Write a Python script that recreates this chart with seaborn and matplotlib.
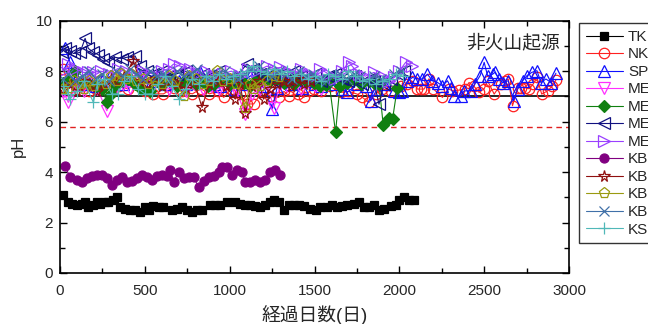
import matplotlib
matplotlib.use("Agg")
import matplotlib.pyplot as plt
import seaborn as sns
from matplotlib.ticker import MultipleLocator

# (elapsed days, pH) per monitoring site
TK = [(20, 3.1), (49, 2.8), (69, 2.75), (98, 2.7), (128, 2.75), (148, 2.8), (167, 2.6), (197, 2.7),
      (217, 2.8), (236, 2.75), (266, 2.8), (285, 2.8), (315, 2.9), (335, 3.0), (354, 2.6), (384, 2.55),
      (413, 2.5), (443, 2.5), (472, 2.4), (502, 2.6), (522, 2.5), (551, 2.65), (581, 2.6), (610, 2.6),
      (659, 2.5), (689, 2.55), (718, 2.6), (748, 2.5), (777, 2.4), (807, 2.5), (836, 2.5), (886, 2.7),
      (915, 2.7), (945, 2.7), (984, 2.8), (1033, 2.8), (1063, 2.75), (1092, 2.7), (1122, 2.7),
      (1151, 2.65), (1181, 2.6), (1210, 2.7), (1240, 2.8), (1260, 2.9), (1289, 2.8), (1319, 2.5),
      (1348, 2.7), (1378, 2.7), (1408, 2.7), (1437, 2.65), (1476, 2.55), (1506, 2.5), (1535, 2.6),
      (1575, 2.6), (1604, 2.7), (1634, 2.6), (1663, 2.65), (1693, 2.7), (1732, 2.75), (1762, 2.8),
      (1791, 2.6), (1821, 2.6), (1850, 2.7), (1880, 2.5), (1909, 2.55), (1949, 2.65), (1978, 2.7),
      (1998, 2.9), (2027, 3.0), (2057, 2.9), (2086, 2.9)]

NK = [(20, 8.1), (50, 7.3), (90, 7.5), (130, 7.4), (170, 7.2), (210, 7.3), (250, 7.6), (300, 7.2),
      (350, 7.4), (400, 7.3), (450, 7.5), (500, 7.2), (550, 7.1), (610, 7.1), (670, 7.35), (720, 7.2),
      (780, 7.1), (830, 7.3), (880, 7.1), (930, 7.2), (965, 6.96), (1010, 7.3), (1060, 7.1),
      (1100, 6.7), (1142, 6.7), (1190, 7.2), (1240, 7.0), (1289, 6.96), (1320, 7.2), (1348, 7.02),
      (1400, 7.1), (1437, 6.96), (1470, 7.2), (1496, 7.3), (1540, 7.2), (1590, 7.4), (1654, 7.16),
      (1700, 7.2), (1752, 7.09), (1782, 6.96), (1821, 6.76), (1860, 7.1), (1900, 7.3), (1950, 7.2),
      (2008, 7.42), (2048, 7.49), (2080, 7.6), (2106, 7.29), (2126, 7.29), (2146, 7.29), (2175, 7.7),
      (2200, 7.3), (2254, 6.96), (2290, 7.3), (2313, 7.22), (2352, 7.25), (2385, 7.3), (2411, 7.55),
      (2440, 7.4), (2470, 7.16), (2500, 7.3), (2520, 7.62), (2559, 7.09), (2599, 7.49), (2620, 7.6),
      (2642, 7.69), (2667, 6.63), (2700, 7.35), (2717, 7.35), (2740, 7.35), (2765, 7.3), (2790, 7.5),
      (2811, 7.75), (2839, 7.09), (2874, 7.22), (2900, 7.4), (2923, 7.65)]

SP = [(30, 8.9), (59, 8.35), (90, 7.6), (130, 7.5), (170, 7.7), (210, 7.4), (250, 7.6), (295, 7.8),
      (340, 7.5), (374, 7.49), (420, 7.7), (460, 7.9), (500, 7.6), (541, 7.62), (580, 7.8), (620, 7.5),
      (660, 7.7), (700, 7.6), (740, 7.5), (790, 7.8), (827, 7.95), (870, 7.6), (910, 7.5), (945, 7.42),
      (990, 7.7), (1030, 7.3), (1070, 7.5), (1122, 7.82), (1160, 7.6), (1200, 7.4), (1250, 6.5),
      (1280, 7.35), (1320, 7.6), (1360, 7.5), (1400, 7.7), (1427, 7.35), (1460, 7.6), (1500, 7.5),
      (1540, 7.4), (1580, 7.7), (1620, 7.5), (1660, 7.3), (1693, 7.16), (1752, 7.49), (1801, 7.42),
      (1831, 6.83), (1870, 7.3), (1910, 7.5), (1969, 7.22), (1998, 7.16), (2018, 7.22), (2048, 7.6),
      (2077, 7.75), (2106, 7.7), (2136, 7.69), (2166, 7.88), (2195, 7.62), (2225, 7.55), (2254, 7.42),
      (2284, 7.62), (2303, 7.35), (2323, 7.02), (2362, 7.02), (2382, 7.22), (2421, 7.22), (2445, 7.49),
      (2476, 7.82), (2500, 8.35), (2520, 7.82), (2550, 7.88), (2563, 7.95), (2589, 7.69), (2609, 7.55),
      (2642, 7.62), (2673, 6.83), (2697, 7.29), (2727, 7.62), (2752, 7.82), (2780, 7.95), (2811, 8.02),
      (2835, 7.55), (2864, 7.69), (2894, 7.55), (2923, 7.92)]

ME_a = [(20, 7.2), (49, 6.76), (98, 7.42), (140, 7.2), (180, 7.5), (220, 7.3), (276, 6.43), (320, 7.2),
        (370, 7.5), (413, 7.35), (460, 7.6), (500, 7.3), (550, 7.4), (600, 7.5), (640, 7.3), (690, 7.4),
        (740, 7.2), (790, 7.5), (840, 7.3), (890, 7.4), (940, 7.3), (990, 7.5), (1040, 7.2), (1093, 6.3),
        (1130, 7.1), (1180, 7.3), (1220, 7.5), (1260, 6.55), (1299, 7.49), (1340, 7.4), (1380, 7.6),
        (1420, 7.3), (1460, 7.6), (1500, 7.4), (1540, 7.3), (1580, 7.5)]

ME_b = [(20, 7.55), (50, 7.6), (89, 8.0), (130, 7.6), (170, 7.5), (210, 7.4), (250, 7.3), (276, 6.76),
        (300, 7.1), (325, 7.45), (360, 7.6), (400, 7.7), (440, 7.5), (480, 7.3), (531, 7.2), (570, 7.6),
        (610, 7.5), (650, 7.7), (690, 7.4), (730, 7.6), (768, 7.7), (800, 7.5), (827, 7.6), (870, 7.4),
        (905, 7.5), (950, 7.7), (1000, 7.5), (1033, 7.6), (1063, 7.65), (1083, 7.55), (1120, 7.4),
        (1163, 7.7), (1200, 7.8), (1240, 7.6), (1280, 7.7), (1320, 7.55), (1360, 7.6), (1378, 7.5),
        (1417, 7.7), (1450, 7.6), (1496, 7.55), (1535, 7.4), (1565, 7.45), (1585, 7.62), (1624, 5.57),
        (1650, 7.42), (1693, 7.55), (1730, 7.7), (1772, 7.5), (1820, 7.6), (1850, 7.55), (1880, 7.49),
        (1905, 5.87), (1940, 6.15), (1960, 6.1), (1988, 7.35)]

ME_c = [(10, 8.75), (30, 8.9), (59, 8.8), (80, 8.7), (118, 8.74), (148, 9.3), (167, 8.9), (197, 8.75),
        (226, 8.65), (256, 8.5), (285, 8.35), (325, 8.55), (364, 8.5), (394, 8.55), (443, 8.6), (470, 8.2),
        (510, 8.0), (550, 7.9), (600, 8.0), (640, 7.8), (690, 7.9), (740, 8.0), (790, 7.7), (840, 7.9),
        (890, 7.8), (940, 8.0), (990, 7.7), (1040, 7.8), (1102, 8.28), (1140, 8.1), (1180, 7.9),
        (1220, 7.8), (1260, 7.6), (1300, 7.9), (1340, 7.7), (1380, 8.0), (1420, 7.8), (1460, 7.7),
        (1500, 7.9), (1540, 7.6), (1580, 7.8), (1620, 7.9), (1660, 7.7), (1700, 7.6), (1740, 7.8),
        (1780, 7.5), (1820, 7.7), (1850, 7.6), (1880, 6.69), (1910, 7.5), (1950, 7.7), (1990, 7.9),
        (2030, 8.0)]

ME_d = [(20, 8.0), (49, 8.28), (89, 8.1), (138, 7.95), (167, 7.95), (197, 7.95), (240, 8.0), (290, 7.9),
        (340, 8.1), (390, 8.0), (440, 7.9), (490, 8.0), (540, 7.9), (600, 8.0), (640, 8.1), (669, 8.28),
        (708, 8.2), (767, 8.1), (810, 7.9), (860, 8.0), (910, 7.8), (960, 7.9), (1010, 8.0), (1060, 7.8),
        (1110, 8.1), (1160, 8.0), (1220, 8.2), (1260, 8.1), (1299, 8.15), (1340, 8.0), (1380, 7.9),
        (1420, 8.1), (1460, 7.9), (1500, 7.8), (1535, 8.08), (1580, 7.9), (1620, 7.7), (1660, 8.0),
        (1703, 8.35), (1722, 8.2), (1760, 7.9), (1800, 7.8), (1850, 7.95), (1900, 7.8), (1940, 7.6),
        (1969, 7.75), (2000, 8.0), (2037, 8.35), (2077, 8.2)]

KB_a = [(29, 4.25), (59, 3.8), (98, 3.7), (128, 3.6), (158, 3.75), (187, 3.85), (217, 3.9), (246, 3.9),
        (276, 3.75), (305, 3.5), (335, 3.7), (364, 3.8), (394, 3.6), (423, 3.65), (453, 3.75), (482, 3.9),
        (512, 3.8), (541, 3.7), (571, 3.85), (600, 3.9), (630, 3.85), (650, 4.1), (669, 3.6), (699, 4.0),
        (728, 3.75), (758, 3.8), (787, 3.8), (817, 3.4), (846, 3.65), (876, 3.8), (906, 3.85), (935, 4.0),
        (955, 4.2), (984, 4.2), (1014, 3.9), (1043, 4.1), (1073, 4.0), (1092, 3.6), (1122, 3.6),
        (1151, 3.7), (1181, 3.6), (1210, 3.7), (1240, 4.0), (1270, 4.1), (1299, 3.9)]

KB_b = [(20, 7.3), (60, 7.5), (100, 7.2), (140, 7.6), (180, 7.4), (216, 7.22), (260, 7.5), (300, 7.7),
        (340, 7.6), (380, 7.8), (433, 8.41), (470, 7.6), (510, 7.5), (560, 7.7), (600, 7.4), (640, 7.6),
        (690, 7.5), (740, 7.3), (790, 7.6), (837, 6.56), (880, 7.5), (930, 7.6), (980, 7.4), (1033, 6.89),
        (1060, 7.5), (1093, 6.36), (1130, 7.4), (1170, 7.6), (1200, 6.89), (1240, 7.3), (1280, 7.5),
        (1320, 7.6), (1360, 7.4), (1400, 7.7), (1440, 7.5), (1480, 7.6)]

KB_c = [(20, 7.3), (49, 7.35), (80, 7.6), (110, 7.5), (140, 7.3), (170, 7.6), (200, 7.4), (240, 7.7),
        (270, 7.5), (300, 7.8), (335, 7.6), (360, 7.9), (390, 7.7), (420, 7.9), (450, 7.6), (490, 7.7),
        (520, 7.5), (560, 7.6), (600, 7.5), (640, 7.8), (680, 7.6), (729, 7.0), (760, 7.8), (800, 7.7),
        (840, 7.5), (880, 7.6), (925, 8.0), (960, 7.6), (1000, 7.7), (1040, 7.5), (1093, 6.55),
        (1120, 7.5), (1142, 7.29), (1180, 7.4), (1220, 7.6), (1260, 7.8), (1289, 7.75)]

KB_d = [(20, 7.7), (50, 7.9), (90, 7.6), (130, 7.8), (170, 8.0), (210, 7.7), (250, 7.9), (290, 7.6),
        (330, 8.0), (370, 7.8), (410, 8.1), (450, 7.9), (490, 7.7), (530, 8.0), (570, 7.8), (610, 7.9),
        (650, 7.7), (690, 8.0), (730, 7.8), (770, 7.9), (810, 8.1), (850, 7.8), (890, 7.7), (930, 7.9),
        (970, 8.0), (1010, 7.8), (1050, 7.7), (1090, 7.9), (1130, 8.1), (1170, 8.2), (1210, 8.0),
        (1250, 7.8), (1290, 8.0), (1330, 7.9), (1370, 7.7), (1410, 8.0), (1450, 7.8), (1490, 7.9),
        (1530, 7.7), (1570, 7.6), (1610, 7.8), (1650, 7.9), (1690, 7.7), (1730, 7.9), (1770, 7.8),
        (1810, 7.6), (1850, 7.8), (1890, 7.7), (1930, 7.6), (1970, 7.9), (2010, 8.0)]

KS = [(20, 7.4), (49, 7.09), (59, 6.9), (100, 7.2), (140, 7.6), (197, 6.76), (220, 7.5), (260, 7.7),
      (305, 7.09), (340, 7.1), (380, 7.6), (420, 7.8), (460, 7.3), (502, 7.09), (540, 7.1), (580, 7.5),
      (620, 7.8), (660, 7.4), (699, 6.9), (740, 7.3), (780, 7.7), (820, 7.5), (860, 7.8), (900, 7.6),
      (940, 7.9), (980, 7.7), (1020, 7.8), (1060, 7.9), (1100, 8.0), (1140, 8.2), (1180, 8.0),
      (1220, 7.9), (1260, 8.1), (1300, 7.9), (1340, 8.0), (1380, 7.8), (1420, 7.9), (1460, 7.7),
      (1500, 7.8), (1540, 7.6), (1580, 7.9), (1620, 7.8), (1660, 7.7), (1700, 8.0), (1740, 7.8),
      (1780, 7.6), (1820, 7.7), (1860, 7.5), (1900, 7.6), (1940, 7.7), (1980, 7.9), (2020, 7.8)]

series_names = ["TK", "NK", "SP", "ME", "ME", "ME", "ME", "KB", "KB", "KB", "KB", "KS"]
series_data = [TK, NK, SP, ME_a, ME_b, ME_c, ME_d, KB_a, KB_b, KB_c, KB_d, KS]

neutral_ph = 7.0
reference_ph = 5.8
panel_title = "非火山起源"

# drawing style for each site: colour, marker, filled?, marker size
styles = [
    ("#000000", "s", True, 5.5),
    ("#ff2020", "o", False, 7.5),
    ("#1010ff", "^", False, 8),
    ("#ff30ff", "v", False, 8),
    ("#108010", "D", True, 6.5),
    ("#101080", "<", False, 8),
    ("#9a40ff", ">", False, 8),
    ("#800080", "o", True, 6.5),
    ("#901010", "*", False, 8.5),
    ("#9a9a10", "p", False, 8),
    ("#4070a8", "x", False, 7),
    ("#50b8b8", "+", False, 8),
]

sns.set_style("ticks")
plt.rcParams["font.family"] = ["Liberation Sans", "Noto Sans CJK JP"]
plt.rcParams["axes.unicode_minus"] = False

fig = plt.figure(figsize=(6.48, 3.24), dpi=100)
ax = fig.add_axes([60 / 648, 1 - 273 / 324, 509 / 648, 252.3 / 324])

ax.axhline(neutral_ph, color="black", lw=1.2, zorder=1)
ax.axhline(reference_ph, color="#e02020", lw=1.0, ls=(0, (4, 3)), zorder=1)

handles = []
for name, pts, (col, mk, filled, ms) in zip(series_names, series_data, styles):
    days = [p[0] for p in pts]
    ph = [p[1] for p in pts]
    kws = dict(color=col, marker=mk, markersize=ms, linewidth=0.8,
               markeredgecolor=col, markeredgewidth=0.9,
               markerfacecolor=col if filled else "none")
    sns.lineplot(x=days, y=ph, ax=ax, estimator=None, sort=False, label=name, legend=False, **kws)
    handles.append(ax.lines[-1])

ax.set_xlim(0, 3000)
ax.set_ylim(0, 10)
ax.xaxis.set_major_locator(MultipleLocator(500))
ax.xaxis.set_minor_locator(MultipleLocator(250))
ax.yaxis.set_major_locator(MultipleLocator(2))
ax.yaxis.set_minor_locator(MultipleLocator(1))
ax.tick_params(which="both", direction="in", top=True, right=True, labelsize=11, color="black")
ax.tick_params(which="major", length=5, width=1)
ax.tick_params(which="minor", length=3.5, width=1)
ax.tick_params(axis="x", which="major", pad=8)
ax.tick_params(axis="y", which="major", pad=5)
for sp in ax.spines.values():
    sp.set_visible(True)
    sp.set_color("black")
    sp.set_linewidth(1.2)

ax.set_xlabel("経過日数(日)", fontsize=13.5, labelpad=5)
ax.set_ylabel("pH", fontsize=12, labelpad=7)
ax.text(0.982, 0.912, panel_title, transform=ax.transAxes, ha="right", va="center",
        fontsize=13.5, family=["Noto Sans CJK JP"])

# the key runs past the right edge of the figure, so its labels are clipped there
leg = fig.legend(handles, series_names, loc="upper left", bbox_to_anchor=(579 / 648, 1 - 23 / 324),
                 frameon=True, fancybox=False, edgecolor="black", fontsize=11,
                 handlelength=2.4, handletextpad=0.35, labelspacing=0.23, borderpad=0.45,
                 borderaxespad=0)
leg.get_frame().set_linewidth(1.0)

fig.savefig("out.png", dpi=100)
